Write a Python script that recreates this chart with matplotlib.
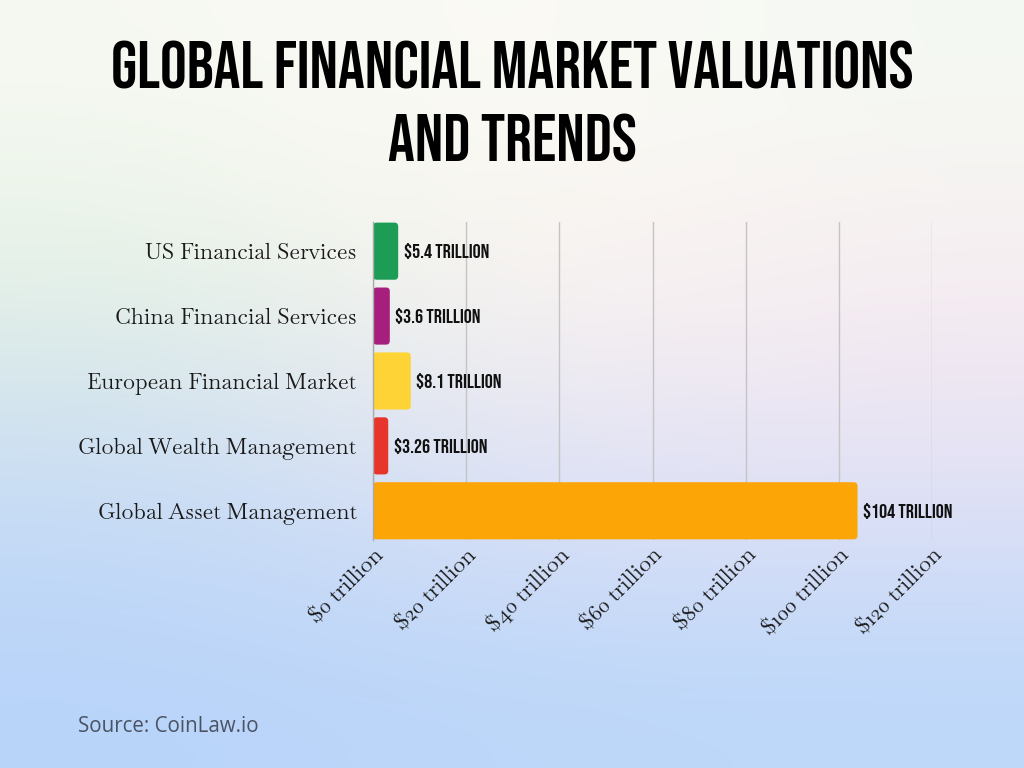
import numpy as np
import matplotlib
matplotlib.use('Agg')
import matplotlib.pyplot as plt
import matplotlib.transforms as mtransforms
from matplotlib.patches import FancyBboxPatch
from matplotlib.colors import to_rgb

categories = ['US Financial Services', 'China Financial Services', 'European Financial Market',
              'Global Wealth Management', 'Global Asset Management']
values = [5.4, 3.6, 8.1, 3.26, 104]
value_labels = ['$5.4 trillion', '$3.6 trillion', '$8.1 trillion', '$3.26 trillion', '$104 trillion']
colors = ['#1c9c54', '#a61f7c', '#fdd335', '#e8352b', '#fba507']
xticks = [0, 20, 40, 60, 80, 100, 120]
xtick_labels = ['$%d trillion' % t for t in xticks]

fig = plt.figure(figsize=(10.24, 7.68), dpi=100)

# background gradient
bg = fig.add_axes([0, 0, 1, 1], zorder=-10)
grid = [['#f6f9f2', '#fdfbf6', '#f4f9f3'],
        ['#e3f1e3', '#fcf5f0', '#f8ecf0'],
        ['#c8dcf5', '#e2e2f5', '#e4e1f5'],
        ['#b8d4fa', '#bcd7f9', '#bcd8fa']]
img = np.array([[to_rgb(c) for c in row] for row in grid])
bg.imshow(img, extent=[0, 1, 0, 1], aspect='auto', interpolation='bicubic')
bg.set_axis_off()

ax = fig.add_axes([0.3643, 0.2969, 0.5459, 0.4141])
ax.set_facecolor('none')
y = np.arange(len(categories))
bars = ax.barh(y, values, height=0.88, color=colors, zorder=3)
ax.set_xlim(0, 120)
ax.set_ylim(4.45, -0.45)

# rounded corners
for b in bars:
    b.set_visible(False)
    p = FancyBboxPatch((b.get_x(), b.get_y()), b.get_width(), b.get_height(),
                       boxstyle='round,pad=0,rounding_size=0.8', mutation_aspect=0.075,
                       facecolor=b.get_facecolor(), edgecolor='none', zorder=3)
    ax.add_patch(p)

for i, (v, lab) in enumerate(zip(values, value_labels)):
    ax.annotate(lab, (v, i), xytext=(4, 0), textcoords='offset points', va='center', ha='left',
                fontsize=14.5, family='Bebas Neue', color='#111111')

ax.set_yticks(y)
ax.set_yticklabels(categories, family='Baskervville', fontsize=16, color='#1a1a1a')
ax.set_xticks(xticks)
ax.set_xticklabels(xtick_labels, family='Baskervville', fontsize=16, color='#1a1a1a',
                   rotation=45, ha='right', rotation_mode='anchor')
offset = mtransforms.ScaledTranslation(0.40, -0.50, fig.dpi_scale_trans)
for t in ax.get_xticklabels():
    t.set_transform(t.get_transform() + offset)
ax.tick_params(axis='both', length=0)
ax.tick_params(axis='y', pad=12)
ax.grid(axis='x', color='#c4c4c4', linewidth=1, zorder=0)
for s in ['top', 'right', 'bottom']:
    ax.spines[s].set_visible(False)
ax.spines['left'].set_color('#aaaaaa')
ax.spines['left'].set_linewidth(1)
ax.spines['left'].set_zorder(4)

fig.text(0.5, 0.915, 'Global Financial Market Valuations', ha='center', va='center',
         fontsize=48, family='Bebas Neue', color='black')
fig.text(0.5, 0.82, 'and Trends', ha='center', va='center',
         fontsize=48, family='Bebas Neue', color='black')
fig.text(0.076, 0.054, 'Source: CoinLaw.io', ha='left', va='center',
         fontsize=14.8, family='Open Sans', color='#4a5363')

fig.savefig('out.png', dpi=100)
